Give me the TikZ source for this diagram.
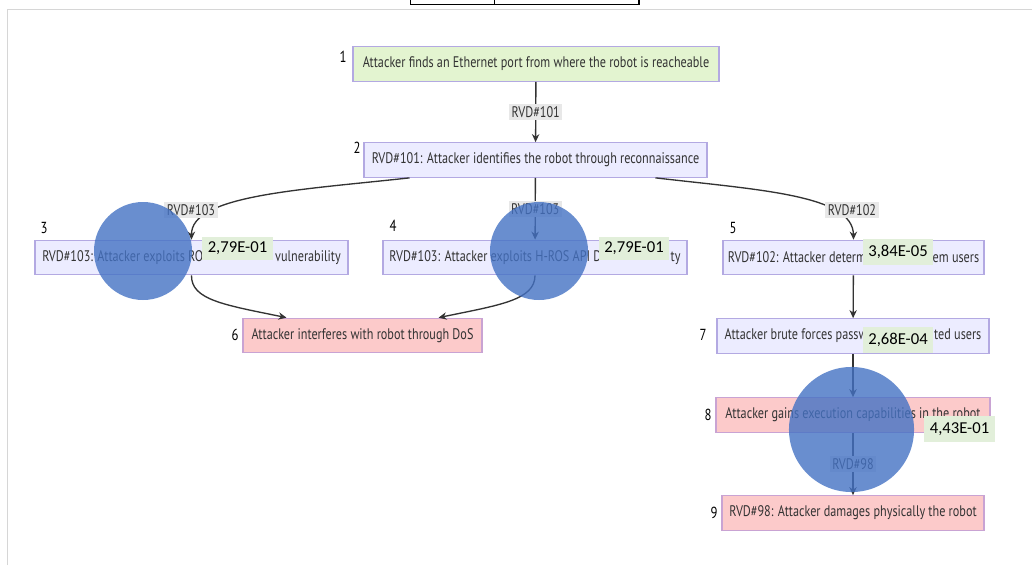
\documentclass[tikz,border=0pt]{standalone}
\usepackage{fontspec}
\setmainfont{PT Sans}[FakeStretch=0.795]
\newfontfamily\calibri{Carlito}
\usetikzlibrary{arrows.meta, calc}
\definecolor{rvdgreen}{HTML}{E3F4D0}
\definecolor{rvdlav}{HTML}{ECECFF}
\definecolor{rvdpink}{HTML}{FCCACA}
\definecolor{rvdedge}{HTML}{B3A9E2}
\definecolor{rvdpinkedge}{HTML}{C9A3D3}
\definecolor{rvdtext}{HTML}{333333}
\definecolor{rvdline}{HTML}{333333}
\definecolor{rvdlbl}{HTML}{E8E8E8}
\definecolor{probfill}{HTML}{E2EFDA}
\definecolor{markblue}{HTML}{4472C4}
\definecolor{framegray}{HTML}{D6D6D6}
\tikzset{
  box/.style={rectangle, draw=rvdedge, line width=0.8pt, fill=rvdlav, text=rvdtext,
    minimum height=26pt, inner xsep=3pt, font=\fontsize{11.5}{13}\selectfont},
  entry/.style={box, fill=rvdgreen},
  impact/.style={box, fill=rvdpink, draw=rvdpinkedge},
  numlbl/.style={inner sep=0pt, text=black, font=\fontsize{12}{14}\selectfont},
  elbl/.style={fill=rvdlbl, inner sep=2pt, text=rvdtext, font=\fontsize{11.5}{13}\selectfont},
  prob/.style={fill=probfill, inner sep=0pt, minimum width=53pt, minimum height=17.5pt,
    font=\calibri\fontsize{12.5}{14}\selectfont},
  arr/.style={-{Stealth[length=6pt, width=5.5pt]}, line width=1pt, rvdline},
  spot/.style={fill=markblue, fill opacity=0.8},
  frame/.style={framegray, line width=1.3pt},
}

\begin{document}
\begin{tikzpicture}[x=0.75pt, y=-0.75pt]
  \fill[white] (0,0) rectangle (1032,565);
  \useasboundingbox (0,0) rectangle (1032,565);
  \draw[frame] (7.5,565) -- (7.5,9.5) -- (1032,9.5);
  \draw[line width=1.1pt] (410.5,-5) -- (410.5,4.5) -- (639,4.5) -- (639,-5);
  \draw[line width=1.1pt] (494.5,-5) -- (494.5,4.5);

  % attack steps
  \node[entry, minimum width=274.5pt] (port) at (536,64) {Attacker finds an Ethernet port from where the robot is reacheable};
  \node[box, minimum width=257.25pt] (recon) at (535.5,160) {RVD\#101: Attacker identifies the robot through reconnaissance};
  \node[box, minimum width=234.75pt] (rosvuln) at (191.5,257.5) {RVD\#103: Attacker exploits RO\hspace{54pt}vulnerability};
  \node[box, minimum width=228pt] (hros) at (535,257.5) {RVD\#103: Attacker exploits H-ROS API D\hspace{52pt}ty};
  \node[box, minimum width=195.75pt] (users) at (853.5,257.5) {RVD\#102: Attacker determ\hspace{50pt}em users};
  \node[impact, minimum width=179.25pt] (dos) at (362.5,335.5) {Attacker interferes with robot through DoS};
  \node[box, minimum width=204pt] (brute) at (853,336) {Attacker brute forces passw\hspace{50pt}ted users};
  \node[impact, minimum width=205.5pt] (exec) at (853,415) {Attacker gains execution capabilities in the robot};
  \node[impact, minimum width=196.5pt] (damage) at (853,513) {RVD\#98: Attacker damages physically the robot};

  % step numbers
  \node[numlbl] (num1) at (343,57) {1};
  \node[numlbl] (num2) at (357,148) {2};
  \node[numlbl] (num3) at (44,228) {3};
  \node[numlbl] (num4) at (393,226) {4};
  \node[numlbl] (num5) at (733,228) {5};
  \node[numlbl] (num6) at (235,335) {6};
  \node[numlbl] (num7) at (703,335) {7};
  \node[numlbl] (num8) at (708,415) {8};
  \node[numlbl] (num9) at (714,513) {9};

  % transitions
  \foreach \a/\b/\v in {port/recon/101, recon/hros/103, exec/damage/98}
    \draw[arr] (\a) -- node[elbl] (lbl-\a) {RVD\#\v} (\b);
  \foreach \a/\b in {users/brute, brute/exec}
    \draw[arr] (\a) -- (\b);
  \draw[arr] ($(recon.south west)+(46,0)$) .. controls (300,190) and (191,195) .. (rosvuln.north);
  \draw[arr] ($(recon.south east)+(-52,0)$) .. controls (760,190) and (853,195) .. (users.north);
  \draw[arr] (rosvuln.south) .. controls (191,300) and (225,305) .. ($(dos.north west)+(44,0)$);
  \draw[arr] (hros.south) .. controls (535,300) and (500,305) .. ($(dos.north east)+(-44,0)$);
  \node[elbl] (lbl-rosvuln) at (191,210) {RVD\#103};
  \node[elbl] (lbl-users) at (852,210) {RVD\#102};

  % probabilities
  \node[prob] (p3) at (237.5,248.5) {2,79E-01};
  \node[prob] (p4) at (634,248.5) {2,79E-01};
  \node[prob, minimum height=19.5pt] (p5) at (898,251.5) {3,84E-05};
  \node[prob, minimum height=19.5pt] (p7) at (898,340) {2,68E-04};
  \node[prob, minimum height=19.5pt] (p8) at (959.5,429) {4,43E-01};

  % marks
  \fill[spot] (143,251) circle[radius=36.75pt];
  \fill[spot] (539,251) circle[radius=36.75pt];
  \fill[spot] (851.5,429.5) circle[radius=46.9pt];
\end{tikzpicture}
\end{document}
